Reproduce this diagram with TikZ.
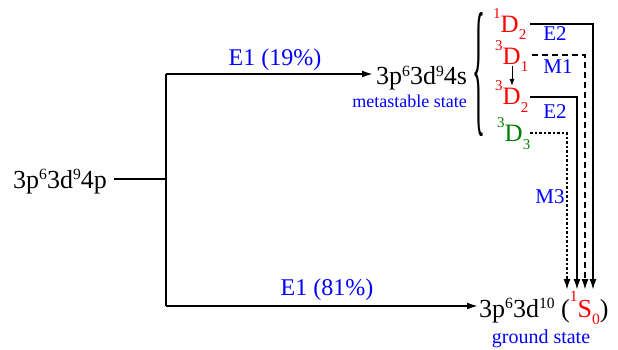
\documentclass[tikz,border=0pt]{standalone}
\usepackage{fontspec}
\setmainfont{Liberation Serif}
\usetikzlibrary{arrows.meta}
\definecolor{lblue}{RGB}{0,0,255}
\definecolor{lred}{RGB}{255,0,0}
\definecolor{lgreen}{RGB}{0,128,0}
\newcommand\myup[1]{\raisebox{0.32em}{\scalebox{0.6}{#1}}}
\newcommand\lup[1]{\raisebox{0.58em}{\scalebox{0.6}{#1}}}
\newcommand\ldn[1]{\raisebox{-0.28em}{\scalebox{0.6}{#1}}}
\begin{document}
\begin{tikzpicture}[x=1pt,y=-1pt,
  txt/.style={inner sep=0pt, anchor=base west, font=\fontsize{26}{30}\selectfont},
  lvl/.style={inner sep=0pt, anchor=base west, font=\fontsize{25}{30}\selectfont},
  lab/.style={inner sep=0pt, anchor=base, text=lblue},
  conn/.style={line width=1.8pt},
  arr/.style={conn,-{Latex[length=11pt,width=7pt]}},
  smallarr/.style={line width=1pt,-{Latex[length=7pt,width=5pt]}},
  dsh/.style={dash pattern=on 6pt off 4pt},
  dts/.style={dash pattern=on 2.5pt off 2pt},
]
\useasboundingbox (0,0) rectangle (618,350);

% main configuration nodes
\node[txt] (p4) at (13,188) {3p\myup{6}3d\myup{9}4p};
\node[txt] (s4) at (376,85) {3p\myup{6}3d\myup{9}4s};
\node[lab, anchor=base east, font=\fontsize{18}{22}\selectfont] (meta) at (467,108) {metastable state};
\node[txt] (gs) at (479,317) {3p\myup{6}3d\myup{10} (\textcolor{lred}{\lup{1}S\ldn{0}})};
\node[lab, font=\fontsize{20}{24}\selectfont] (gl) at (541,343) {ground state};
\node[lab, font=\fontsize{24}{28}\selectfont] (e19) at (275,66) {E1 (19\%)};
\node[lab, font=\fontsize{24}{28}\selectfont] (e81) at (327,295) {E1 (81\%)};

% brace
\node[inner sep=0pt, anchor=west, font=\fontsize{25}{30}\selectfont] (br) at (472,75) {\resizebox*{13pt}{124pt}{\{}};

% levels
\node[lvl, text=lred] (d12) at (493,33) {\lup{1}D\ldn{2}};
\node[lvl, text=lred] (d31) at (495,65) {\lup{3}D\ldn{1}};
\node[lvl, text=lred] (d32) at (495,105) {\lup{3}D\ldn{2}};
\node[lvl, text=lgreen] (d33) at (497,142) {\lup{3}D\ldn{3}};

% transition labels
\node[lab, font=\fontsize{21}{24}\selectfont] (le2a) at (555,41) {E2};
\node[lab, font=\fontsize{21}{24}\selectfont] (lm1) at (558,74) {M1};
\node[lab, font=\fontsize{21}{24}\selectfont] (le2b) at (555,118) {E2};
\node[lab, font=\fontsize{21}{24}\selectfont] (lm3) at (550,203) {M3};

% junctions
\coordinate (j0) at (166,179);
\coordinate (jt) at (166,74);
\coordinate (jb) at (166,306);
\draw[conn] ([xshift=7pt]p4.east |- j0) -- (j0);
\draw[conn] (jt) -- (jb);
\draw[arr] (jt) -- ([xshift=-3pt]s4.west |- jt);
\draw[arr] (jb) -- ([xshift=-1pt]gs.west |- jb);

% decay lines
\coordinate (c1) at (593,24);  \coordinate (e1) at (593,290);
\coordinate (c2) at (585,55);  \coordinate (e2) at (585,290);
\coordinate (c3) at (577,97);  \coordinate (e3) at (577,290);
\coordinate (c4) at (567,133); \coordinate (e4) at (567,290);
\draw[arr] ([xshift=4pt]d12.east |- c1) -- (c1) -- (e1);
\draw[arr,dsh] ([xshift=4pt]d31.east |- c2) -- (c2) -- (e2);
\draw[arr] ([xshift=2pt]d32.east |- c3) -- (c3) -- (e3);
\draw[arr,dts] ([xshift=0pt]d33.east |- c4) -- (c4) -- (e4);

% internal M1 cascade
\coordinate (a1) at (512,66);
\coordinate (a2) at (512,86);
\draw[smallarr] (a1) -- (a2);
\end{tikzpicture}
\end{document}
